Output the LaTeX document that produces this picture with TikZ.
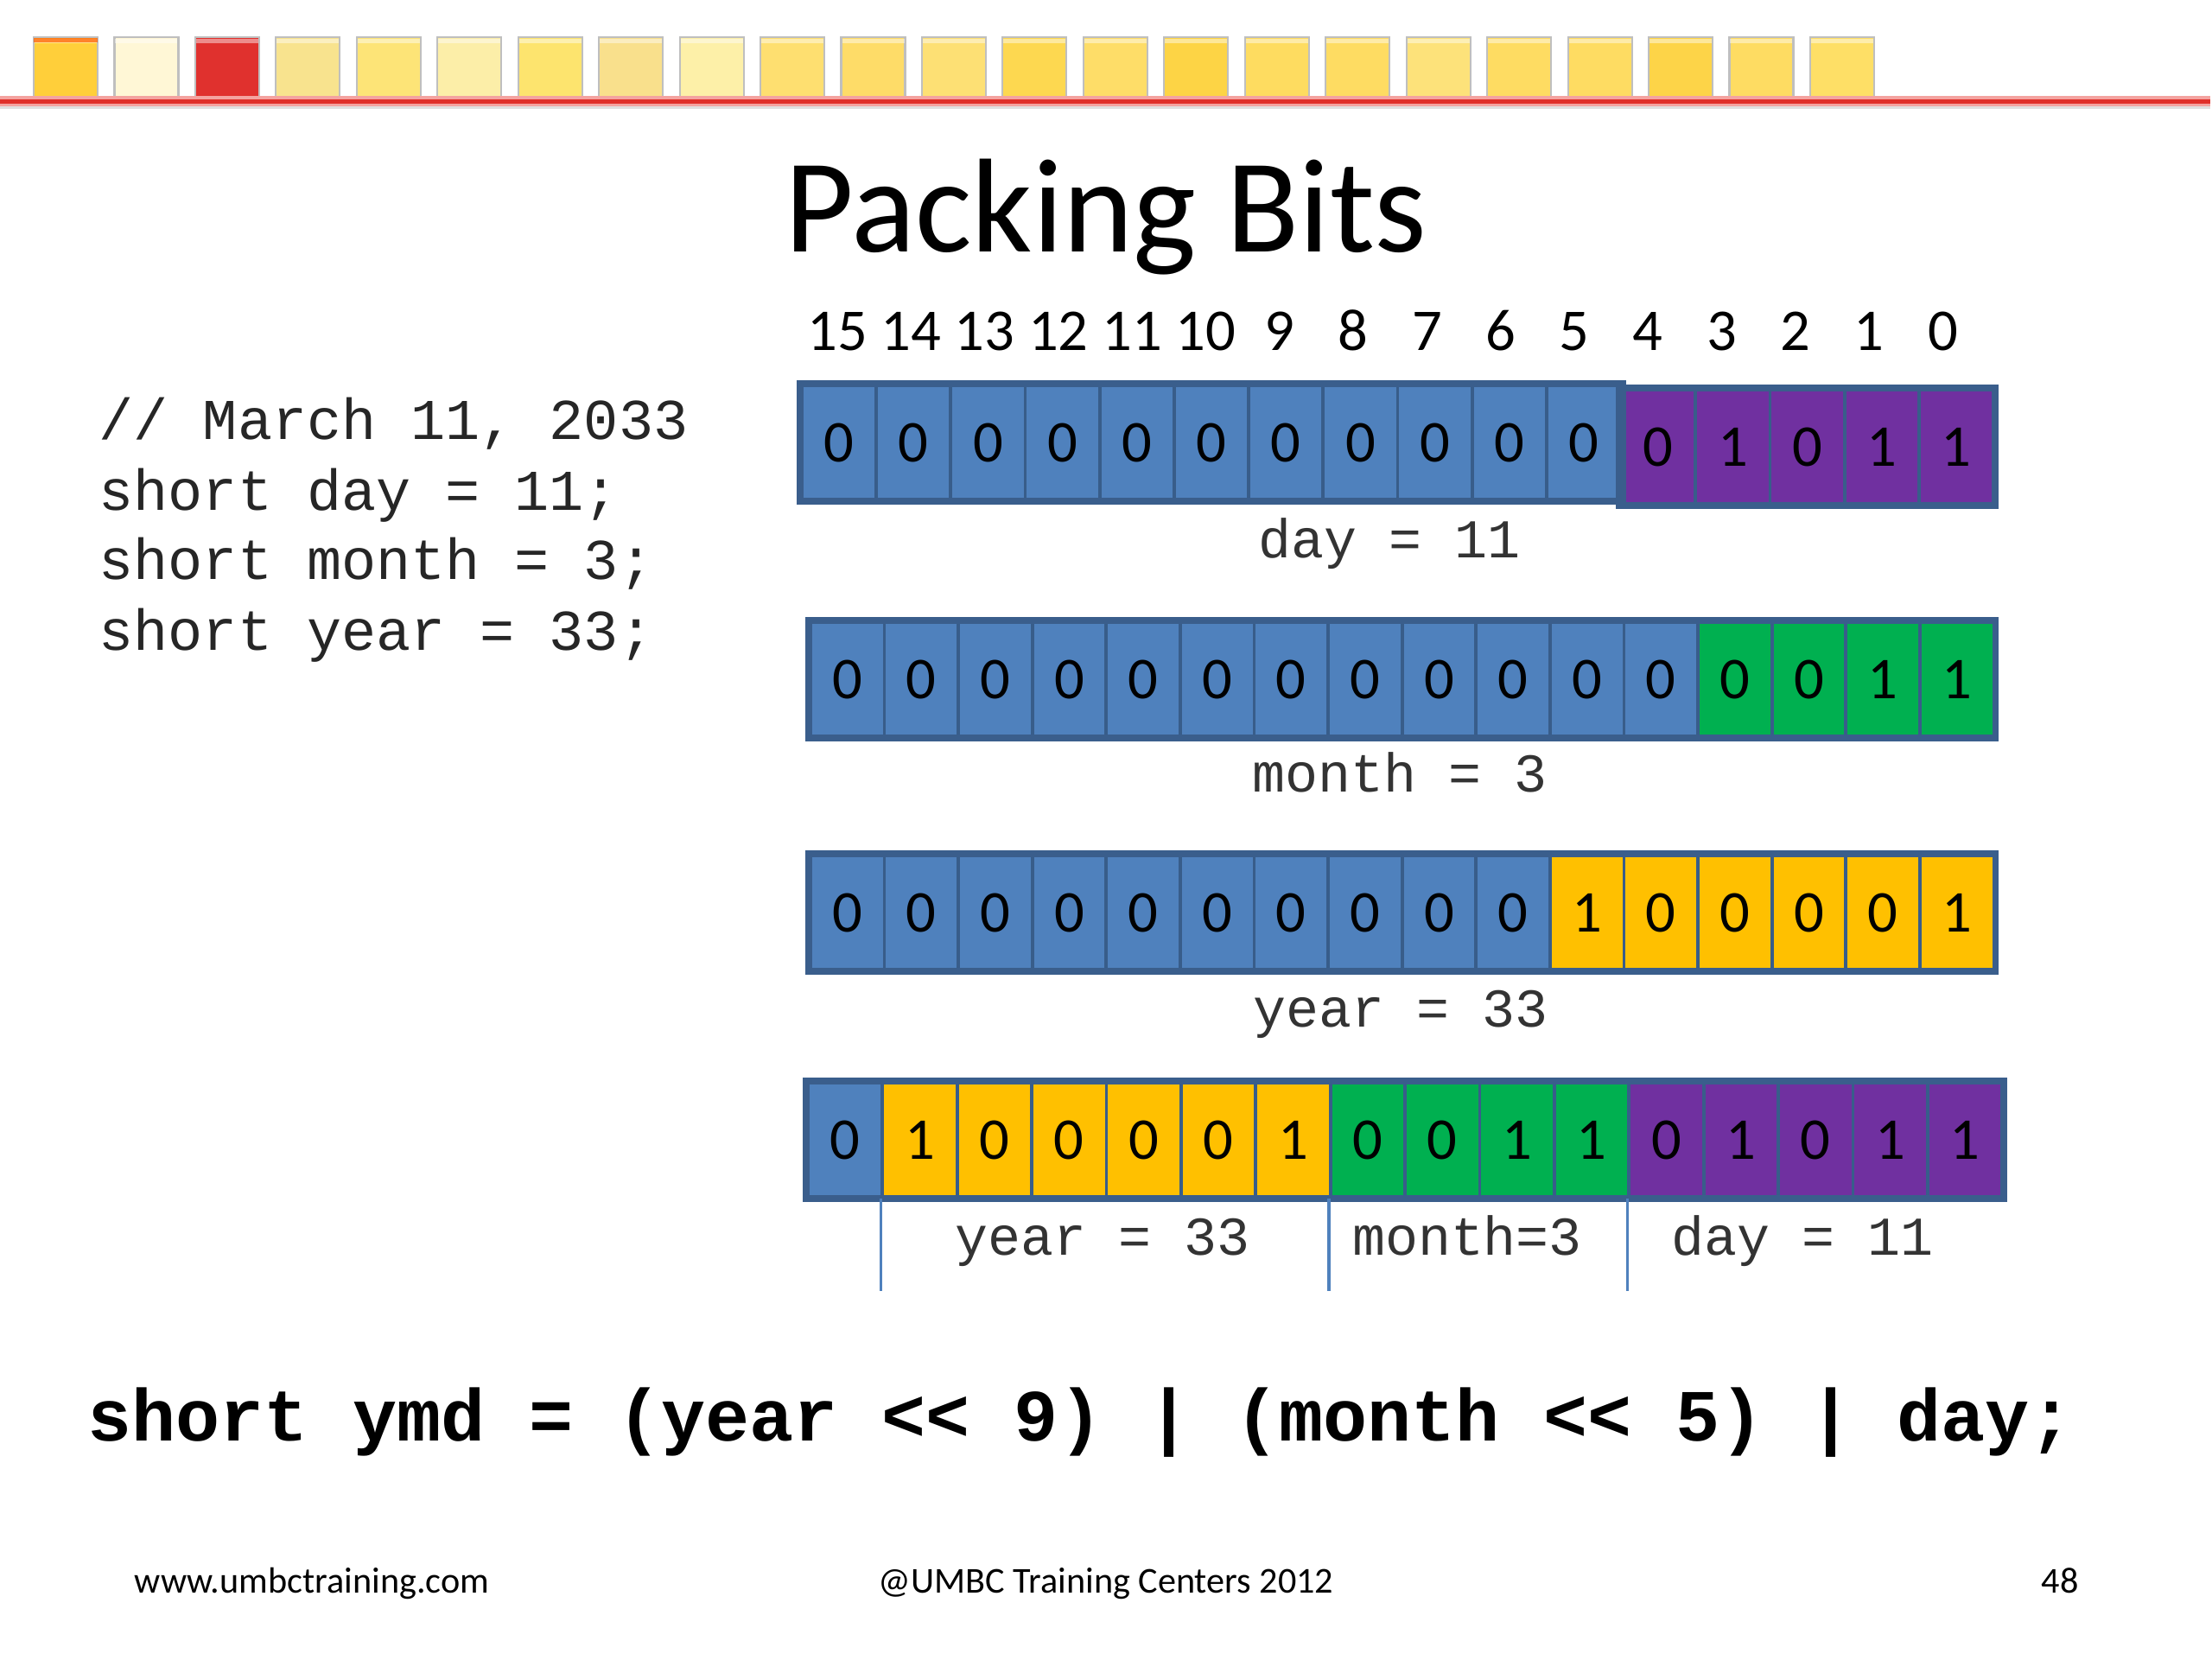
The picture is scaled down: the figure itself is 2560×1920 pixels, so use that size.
\documentclass[tikz,border=0pt]{standalone}
\usepackage{fontspec}
\setmainfont{Carlito}
\newfontfamily\monofont{Liberation Mono}[Ligatures=ResetAll]
\definecolor{bitblue}{HTML}{4F81BD}
\definecolor{cellborder}{HTML}{385D8A}
\definecolor{frameblue}{HTML}{3A5E8C}
\definecolor{bitpurple}{HTML}{7030A0}
\definecolor{bitgreen}{HTML}{00B050}
\definecolor{bitgold}{HTML}{FFC000}
\definecolor{labelgray}{HTML}{333333}
\definecolor{codegray}{HTML}{262626}
\definecolor{barred}{HTML}{E0302A}
\definecolor{barpink}{HTML}{F4A3A0}
\newcommand{\bitrow}[5]{%
  \foreach \c/\d/\dy [count=\i from 0] in {#5}
    \node[cell, fill=\c, minimum width=#4*0.01cm] (#1c\i) at ({#2+\i*#4},{#3+\dy}) {\d};
}
\begin{document}
\begin{tikzpicture}[x=0.01cm,y=-0.01cm,
  cell/.style={draw=cellborder, line width=1.1pt, inner sep=0pt, anchor=north west,
    minimum height=1.32cm, font=\fontsize{19.5}{22}\selectfont, text=black},
  frame/.style={draw=frameblue, line width=2.2pt},
  idx/.style={anchor=base, font=\fontsize{19.5}{22}\selectfont},
  lbl/.style={anchor=base, inner sep=0pt, font=\monofont\fontsize{18}{20}\selectfont, text=labelgray},
  code/.style={anchor=base west, inner sep=0pt, font=\monofont\fontsize{19}{22}\selectfont, text=codegray},
  divider/.style={draw=bitblue, line width=1pt},
  foot/.style={inner sep=0pt, font=\fontsize{12}{14}\selectfont, text=black}
]
% canvas
\fill[white] (0,0) rectangle (2560,1920);
\useasboundingbox (0,0) rectangle (2560,1920);

% top bar squares
\foreach \hex [count=\i from 0] in {FFCF3A,FFF7D6,E0312E,F8E38E,FDE477,FCEEA8,FDE46E,F9E08C,FDF0A8,FEDF70,FEDC68,FDE074,FDD850,FEDD68,FDD445,FEDC60,FEDC62,FDE27A,FEDC62,FEDC62,FDD448,FEDC62,FEDF66}{
  \definecolor{sqc}{HTML}{\hex}
  \filldraw[fill=sqc, draw=black!25, line width=0.6pt] ({39+93.45*\i},43) rectangle ++(74,76);
  \fill[white, opacity=0.45] ({40+93.45*\i},45) rectangle ++(72,5);
}
\fill[orange!70!red, opacity=0.7] (39,44) rectangle (113,49);
% red rule
\fill[black!12] (0,122) rectangle (2558,126);
\fill[barpink] (0,111) rectangle (2558,123);
\fill[barred] (0,115) rectangle (2558,120);

% title
\node[anchor=base, font=\fontsize{44}{50}\selectfont] (title) at (1280,291) {Packing Bits};

% bit indices
\foreach \n [count=\i from 0] in {15,14,13,12,11,10,9,8,7,6,5,4,3,2,1,0}
  \node[idx] (idx\n) at ({969+85.3*\i},405) {\n};

% code
\node[code] (c1) at (114,508) {// March 11, 2033};
\node[code] (c2) at (114,590) {short day = 11;};
\node[code] (c3) at (114,670) {short month = 3;};
\node[code] (c4) at (114,752) {short year = 33;};

% row 1: day
\bitrow{r1}{926}{444}{86.2}{bitblue/0/0,bitblue/0/0,bitblue/0/0,bitblue/0/0,bitblue/0/0,bitblue/0/0,bitblue/0/0,bitblue/0/0,bitblue/0/0,bitblue/0/0,bitblue/0/0,bitpurple/0/5,bitpurple/1/5,bitpurple/0/5,bitpurple/1/5,bitpurple/1/5}
\draw[frame] (r1c0.north west) rectangle (r1c10.south east);
\draw[frame] (r1c11.north west) rectangle (r1c15.south east);
\node[lbl] (l1) at (1608,645) {day = 11};

% row 2: month
\bitrow{r2}{936}{718}{85.6}{bitblue/0/0,bitblue/0/0,bitblue/0/0,bitblue/0/0,bitblue/0/0,bitblue/0/0,bitblue/0/0,bitblue/0/0,bitblue/0/0,bitblue/0/0,bitblue/0/0,bitblue/0/0,bitgreen/0/0,bitgreen/0/0,bitgreen/1/0,bitgreen/1/0}
\draw[frame] (r2c0.north west) rectangle (r2c15.south east);
\node[lbl] (l2) at (1620,916) {month = 3};

% row 3: year
\bitrow{r3}{936}{988}{85.6}{bitblue/0/0,bitblue/0/0,bitblue/0/0,bitblue/0/0,bitblue/0/0,bitblue/0/0,bitblue/0/0,bitblue/0/0,bitblue/0/0,bitblue/0/0,bitgold/1/0,bitgold/0/0,bitgold/0/0,bitgold/0/0,bitgold/0/0,bitgold/1/0}
\draw[frame] (r3c0.north west) rectangle (r3c15.south east);
\node[lbl] (l3) at (1621,1188) {year = 33};

% row 4: packed
\bitrow{r4}{933}{1251}{86.4}{bitblue/0/0,bitgold/1/0,bitgold/0/0,bitgold/0/0,bitgold/0/0,bitgold/0/0,bitgold/1/0,bitgreen/0/0,bitgreen/0/0,bitgreen/1/0,bitgreen/1/0,bitpurple/0/0,bitpurple/1/0,bitpurple/0/0,bitpurple/1/0,bitpurple/1/0}
\draw[frame] (r4c0.north west) rectangle (r4c15.south east);
\draw[divider] (r4c1.south west) -- ++(0,107);
\draw[divider] (r4c7.south west) -- ++(0,107);
\draw[divider] (r4c11.south west) -- ++(0,107);
\node[lbl] (l4) at (1276,1452) {year = 33};
\node[lbl] (l5) at (1698,1452) {month=3};
\node[lbl] (l6) at (2086,1452) {day = 11};

% formula
\node[anchor=base west, inner sep=0pt, font=\monofont\bfseries\fontsize{24.2}{26}\selectfont] (formula) at (101,1667) {short ymd = (year << 9) | (month << 5) | day;};

% footer
\node[foot, anchor=base west] (web) at (155,1843) {www.umbctraining.com};
\node[foot, anchor=base] (copy) at (1280,1843) {@UMBC Training Centers 2012};
\node[foot, anchor=base] (page) at (2384,1843) {48};
\end{tikzpicture}
\end{document}
